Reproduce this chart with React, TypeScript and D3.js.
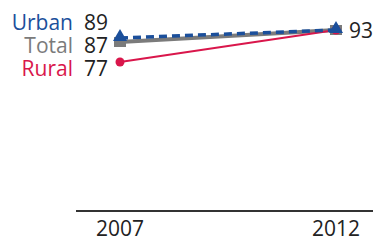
import React, { useRef, useEffect } from "react";
import * as d3 from "d3";

const years = ["2007", "2012"];
const seriesNames = ["Total", "Rural", "Urban"];
const totalValues = [87, 93];
const ruralValues = [77, 93];
const urbanValues = [89, 93];
const labelOrder = ["Urban", "Total", "Rural"];

const colors: Record<string, string> = {
  Urban: "#1b4f9b",
  Total: "#7b7b7b",
  Rural: "#d9164b",
};

const App = () => {
  const ref = useRef<SVGSVGElement>(null);

  useEffect(() => {
    const width = 373;
    const height = 240;
    const font = "'Open Sans', sans-serif";

    const svg = d3.select(ref.current);
    svg.selectAll("*").remove();

    const x = d3.scalePoint().domain(years).range([120, 336]);
    const y = d3.scaleLinear().domain([0, 100]).range([216, 16]);

    const valuesFor: Record<string, number[]> = {
      Total: totalValues,
      Rural: ruralValues,
      Urban: urbanValues,
    };

    // axis line + year labels
    svg
      .append("line")
      .attr("x1", 76)
      .attr("x2", width)
      .attr("y1", 211)
      .attr("y2", 211)
      .attr("stroke", "#333")
      .attr("stroke-width", 2);

    svg
      .selectAll("text.year")
      .data(years)
      .enter()
      .append("text")
      .attr("class", "year")
      .attr("x", (d) => x(d)!)
      .attr("y", 236)
      .attr("text-anchor", "middle")
      .attr("font-family", font)
      .attr("font-size", 21)
      .attr("fill", "#222")
      .text((d) => d);

    const line = d3
      .line<number>()
      .x((_, i) => x(years[i])!)
      .y((d) => y(d));

    seriesNames.forEach((name) => {
      const vals = valuesFor[name];
      const path = svg
        .append("path")
        .attr("d", line(vals))
        .attr("fill", "none")
        .attr("stroke", colors[name]);
      if (name === "Total") path.attr("stroke-width", 4);
      if (name === "Rural") path.attr("stroke-width", 2);
      if (name === "Urban")
        path.attr("stroke-width", 3.5).attr("stroke-dasharray", "8 5");

      vals.forEach((v, i) => {
        const cx = x(years[i])!;
        const cy = y(v);
        if (name === "Total") {
          svg
            .append("rect")
            .attr("x", cx - 6)
            .attr("y", cy - 5)
            .attr("width", 12)
            .attr("height", 10)
            .attr("fill", colors[name]);
        } else if (name === "Rural") {
          svg
            .append("circle")
            .attr("cx", cx)
            .attr("cy", cy)
            .attr("r", 4.5)
            .attr("fill", colors[name]);
        } else {
          svg
            .append("path")
            .attr("d", d3.symbol(d3.symbolTriangle, 85)())
            .attr("transform", `translate(${cx},${cy - 1})`)
            .attr("fill", colors[name]);
        }
      });
    });

    // left labels, stacked
    const baseY = y(totalValues[0]) + 11;
    labelOrder.forEach((name, i) => {
      const ly = baseY + (i - 1) * 23;
      svg
        .append("text")
        .attr("x", 73)
        .attr("y", ly)
        .attr("text-anchor", "end")
        .attr("font-family", font)
        .attr("font-size", 21)
        .attr("fill", colors[name])
        .text(name);
      svg
        .append("text")
        .attr("x", 84)
        .attr("y", ly)
        .attr("font-family", font)
        .attr("font-size", 21)
        .attr("fill", "#222")
        .text(valuesFor[name][0]);
    });

    // right label
    svg
      .append("text")
      .attr("x", 349)
      .attr("y", y(totalValues[1]) + 8)
      .attr("font-family", font)
      .attr("font-size", 21)
      .attr("fill", "#222")
      .text(totalValues[1]);

    svg.attr("width", width).attr("height", height);
  }, []);

  return (
    <svg
      ref={ref}
      width={373}
      height={240}
      style={{ position: "absolute", left: 0, top: 0, background: "#fff" }}
    />
  );
};

export default App;
